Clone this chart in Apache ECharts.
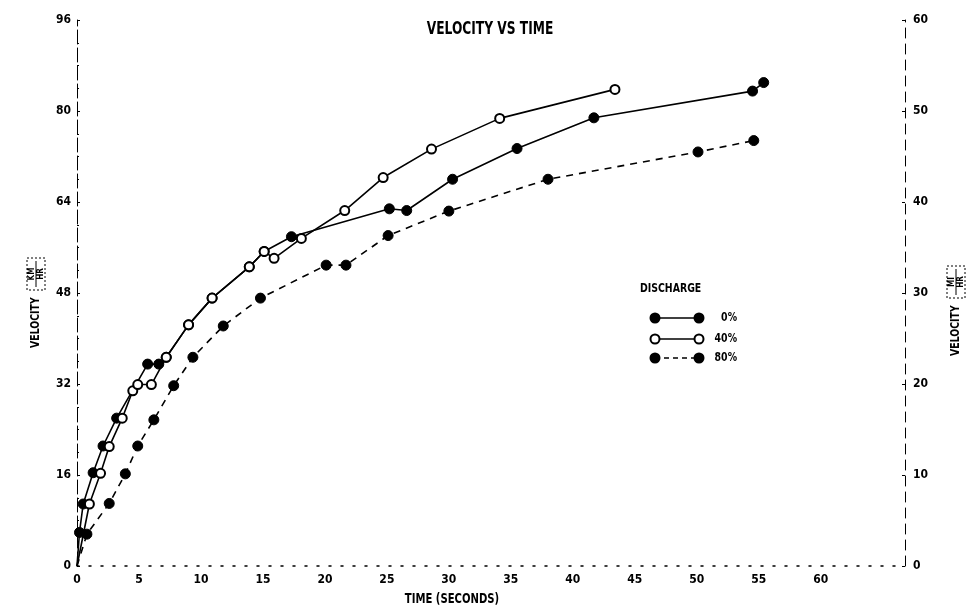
<!DOCTYPE html>
<html>
<head>
<meta charset="utf-8">
<script src="https://cdn.jsdelivr.net/npm/echarts@6/dist/echarts.min.js"></script>
<style>
html,body{margin:0;padding:0;background:#fff;}
#chart{width:971px;height:612px;}
</style>
</head>
<body>
<div id="chart"></div>
<script>
// ---- data (time in seconds, velocity in km/h) ----
const seriesNames = ['0%', '40%', '80%'];
const timeZero = [0, 0.2, 0.5, 1.3, 2.1, 3.2, 5.7, 6.6, 7.2, 9.0, 10.9, 13.9, 15.1, 17.3, 25.2, 26.6, 30.3, 35.5, 41.7, 54.5, 55.4];
const velZero  = [0, 5.9, 10.9, 16.4, 21.1, 26.0, 35.5, 35.5, 36.7, 42.4, 47.1, 52.6, 55.3, 57.9, 62.8, 62.5, 68.0, 73.4, 78.8, 83.5, 85.0];
const timeForty = [0, 1.0, 1.9, 2.6, 3.65, 4.5, 4.9, 6.0, 7.2, 9.0, 10.9, 13.9, 15.1, 15.9, 18.1, 21.6, 24.7, 28.6, 34.1, 43.4];
const velForty  = [0, 10.9, 16.3, 21.0, 26.0, 30.8, 31.9, 31.9, 36.7, 42.4, 47.1, 52.6, 55.3, 54.1, 57.6, 62.5, 68.3, 73.3, 78.7, 83.8];
const timeEighty = [0, 0.8, 2.6, 3.9, 4.9, 6.2, 7.8, 9.35, 11.8, 14.8, 20.1, 21.7, 25.1, 30.0, 38.0, 50.1, 54.6];
const velEighty  = [0, 5.6, 11.0, 16.2, 21.1, 25.7, 31.7, 36.7, 42.2, 47.1, 52.9, 52.9, 58.1, 62.4, 68.0, 72.8, 74.8];
const xTicks = [0, 5, 10, 15, 20, 25, 30, 35, 40, 45, 50, 55, 60];
const kmhTicks = [0, 16, 32, 48, 64, 80, 96];
const mphTicks = [0, 10, 20, 30, 40, 50, 60];

const FONT = '"Liberation Sans Narrow","DejaVu Sans Condensed","Roboto Condensed","Liberation Sans",sans-serif';
const pair = (ts, vs) => ts.map((t, i) => [t, vs[i]]);
const symFn = (v, p) => (p.dataIndex === 0 ? 'none' : 'circle');

const chart = echarts.init(document.getElementById('chart'), null, {renderer: 'canvas'});
const labelStyle = {color: '#000', fontFamily: FONT, fontWeight: 'bold', fontSize: 12};

function narrowText(x, y, text, size, align, sx) {
  return {
    type: 'text', x: x, y: y, scaleX: sx || 0.8,
    style: {text: text, font: 'bold ' + size + 'px ' + FONT, fill: '#000', align: align, verticalAlign: 'middle'}
  };
}

function fractionGroup(x, y, top, bottom) {
  // rotated axis name: "VELOCITY" + boxed fraction
  return {
    type: 'group', x: x, y: y, rotation: Math.PI / 2,
    children: [
      narrowText(-56, 0, 'VELOCITY', 13, 'left'),
      {type: 'rect', shape: {x: 2, y: -9, width: 32, height: 18}, style: {fill: 'none', stroke: '#000', lineWidth: 1, lineDash: [2, 2]}},
      narrowText(18, -4.5, top, 9, 'center', 0.9),
      {type: 'line', shape: {x1: 5, y1: 0, x2: 31, y2: 0}, style: {stroke: '#000', lineWidth: 1}},
      narrowText(18, 4.5, bottom, 9, 'center', 0.9)
    ]
  };
}

function legendRow(y, name, filled, dashed) {
  const children = [
    {type: 'line', shape: {x1: 0, y1: 0, x2: 44, y2: 0}, style: {stroke: '#000', lineWidth: 1.5, lineDash: dashed ? [5, 4] : null}},
    {type: 'circle', shape: {cx: 0, cy: 0, r: 4.5}, style: {fill: filled ? '#000' : '#fff', stroke: '#000', lineWidth: 2}},
    {type: 'circle', shape: {cx: 44, cy: 0, r: 4.5}, style: {fill: filled ? '#000' : '#fff', stroke: '#000', lineWidth: 2}},
    narrowText(82, 0, name, 13, 'right')
  ];
  return {type: 'group', x: 655, y: y, children: children};
}

const option = {
  animation: false,
  backgroundColor: '#fff',
  graphic: [
    narrowText(490, 30, 'VELOCITY VS TIME', 17, 'center'),
    fractionGroup(36, 292, 'KM', 'HR'),
    fractionGroup(956, 300, 'MI', 'HR'),
    narrowText(452, 599, 'TIME (SECONDS)', 14, 'center'),
    narrowText(640, 289, 'DISCHARGE', 13, 'left'),
    legendRow(318, seriesNames[0], true, false),
    legendRow(339, seriesNames[1], false, false),
    legendRow(358, seriesNames[2], true, true)
  ],
  grid: {left: 77, right: 66, top: 20, bottom: 46},
  xAxis: {
    type: 'value', min: 0, max: 66.8, interval: 5,
    axisLine: {show: true, lineStyle: {color: '#000', width: 1.5, type: [2, 10]}},
    axisTick: {show: false},
    splitLine: {show: false},
    axisLabel: Object.assign({}, labelStyle, {margin: 8,
      formatter: v => (xTicks.indexOf(v) >= 0 ? String(v) : '')})
  },
  yAxis: [
    {
      type: 'value', min: 0, max: 96, interval: 16, position: 'left',
      axisLine: {show: true, lineStyle: {color: '#000', width: 1, type: [14, 4]}},
      axisTick: {show: true, inside: true, length: 3, lineStyle: {color: '#000'}},
      minorTick: {show: true, splitNumber: 4, length: 2, lineStyle: {color: '#000'}},
      splitLine: {show: false},
      axisLabel: Object.assign({}, labelStyle, {margin: 6,
        formatter: v => (kmhTicks.indexOf(v) >= 0 ? String(v) : '')})
    },
    {
      type: 'value', min: 0, max: 60, interval: 10, position: 'right',
      axisLine: {show: true, lineStyle: {color: '#000', width: 1, type: [10, 6]}},
      axisTick: {show: true, inside: true, length: 3, lineStyle: {color: '#000'}},
      splitLine: {show: false},
      axisLabel: Object.assign({}, labelStyle, {margin: 8,
        formatter: v => (mphTicks.indexOf(v) >= 0 ? String(v) : '')})
    }
  ],
  series: [
    {
      name: seriesNames[0], type: 'line', data: pair(timeZero, velZero), z: 3,
      symbol: symFn, symbolSize: 10,
      lineStyle: {color: '#000', width: 1.6},
      itemStyle: {color: '#000', borderColor: '#000', borderWidth: 1}
    },
    {
      name: seriesNames[1], type: 'line', data: pair(timeForty, velForty), z: 5,
      symbol: symFn, symbolSize: 9,
      lineStyle: {color: '#000', width: 1.6},
      itemStyle: {color: '#fff', borderColor: '#000', borderWidth: 2}
    },
    {
      name: seriesNames[2], type: 'line', data: pair(timeEighty, velEighty), z: 3,
      symbol: symFn, symbolSize: 10,
      lineStyle: {color: '#000', width: 1.6, type: [7, 6]},
      itemStyle: {color: '#000', borderColor: '#000', borderWidth: 1}
    }
  ]
};
chart.setOption(option);
</script>
</body>
</html>
